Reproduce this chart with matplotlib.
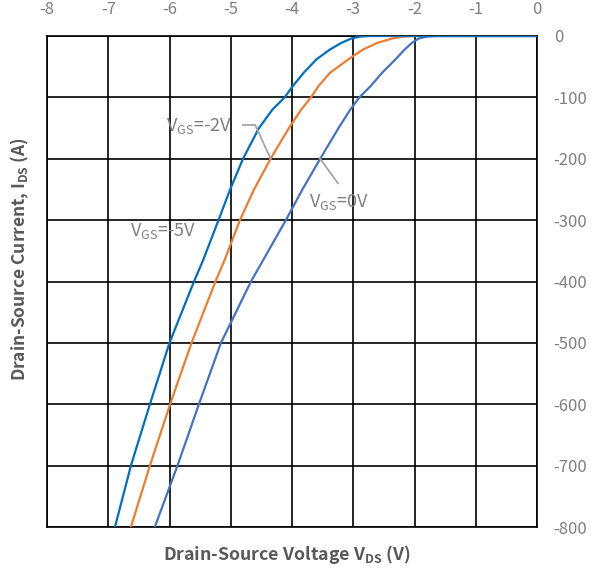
import matplotlib
matplotlib.use("Agg")
import matplotlib.pyplot as plt

# -----------------------
# Data
# -----------------------
current = [-800, -700, -600, -500, -400, -365, -300, -250, -200, -150, -120,
           -100, -82, -60, -38, -22, -11, -4, -1, 0, 0]

vds_vgs_m5 = [-6.89, -6.63, -6.32, -6.00, -5.60, -5.45, -5.20, -5.01, -4.80, -4.54, -4.32,
              -4.12, -3.99, -3.81, -3.60, -3.38, -3.19, -3.03, -2.89, -2.73, 0.0]
vds_vgs_m2 = [-6.63, -6.32, -5.99, -5.64, -5.25, -5.10, -4.85, -4.62, -4.35, -4.05, -3.85,
              -3.69, -3.57, -3.38, -3.08, -2.84, -2.60, -2.36, -2.20, -2.00, 0.0]
vds_vgs_0 = [-6.24, -5.87, -5.52, -5.16, -4.67, -4.47, -4.10, -3.83, -3.54, -3.24, -3.05,
             -2.90, -2.72, -2.53, -2.31, -2.16, -2.04, -1.93, -1.80, -1.64, 0.0]

x_ticks = [-8, -7, -6, -5, -4, -3, -2, -1, 0]
y_ticks = [0, -100, -200, -300, -400, -500, -600, -700, -800]

# -----------------------
# Style
# -----------------------
FONT = ["Noto Sans CJK SC", "DejaVu Sans"]
plt.rcParams["font.family"] = FONT
plt.rcParams["axes.unicode_minus"] = False
plt.rcParams["mathtext.fontset"] = "custom"
plt.rcParams["mathtext.rm"] = "Noto Sans CJK SC"
plt.rcParams["mathtext.bf"] = "Noto Sans CJK SC:bold"

LABEL_GRAY = "#595959"
TICK_GRAY = "#7f7f7f"
NOTE_GRAY = "#7f7f7f"
LEADER_GRAY = "#a5a5a5"

fig = plt.figure(figsize=(5.92, 5.70), dpi=100)
ax = fig.add_axes([47 / 592, 1 - 527 / 570, 490 / 592, 491 / 570])

ax.plot(vds_vgs_m2, current, color="#ed7d31", linewidth=1.6, zorder=3)
ax.plot(vds_vgs_0, current, color="#4472c4", linewidth=1.6, zorder=3)
ax.plot(vds_vgs_m5, current, color="#0070c0", linewidth=1.6, zorder=3)

ax.set_xlim(-8, 0)
ax.set_ylim(-800, 0)
ax.set_xticks(x_ticks)
ax.set_yticks(y_ticks)
ax.set_xticklabels([str(v) for v in x_ticks])
ax.set_yticklabels([str(v) for v in y_ticks])

ax.grid(True, color="black", linewidth=1.2, zorder=1)
ax.set_axisbelow(True)
for s in ax.spines.values():
    s.set_color("black")
    s.set_linewidth(1.2)

ax.xaxis.tick_top()
ax.yaxis.tick_right()
ax.tick_params(axis="x", length=0, pad=13, labelsize=12, labelcolor=TICK_GRAY)
ax.tick_params(axis="y", length=0, pad=12, labelsize=12, labelcolor=TICK_GRAY)

ax.xaxis.set_label_position("bottom")
ax.yaxis.set_label_position("left")
ax.set_xlabel(r"Drain-Source Voltage V$_{\mathbf{DS}}$ (V)", fontsize=12.8,
              fontweight="bold", color=LABEL_GRAY)
ax.set_ylabel(r"Drain-Source Current, I$_{\mathbf{DS}}$ (A)", fontsize=12.5,
              fontweight="bold", color=LABEL_GRAY)
ax.xaxis.set_label_coords(0.49, -0.033)
ax.yaxis.set_label_coords(-0.033, 0.546)

# -----------------------
# Annotations
# -----------------------
ax.plot([-4.80, -4.60, -4.35], [-145, -145, -200], color=LEADER_GRAY, linewidth=1.3, zorder=4)
ax.plot([-3.54, -3.25], [-200, -240], color=LEADER_GRAY, linewidth=1.3, zorder=4)

ax.text(-6.05, -147, r"V$_{\rm GS}$=-2V", fontsize=13, color=NOTE_GRAY, va="center", ha="left")
ax.text(-3.72, -271, r"V$_{\rm GS}$=0V", fontsize=13, color=NOTE_GRAY, va="center", ha="left")
ax.text(-6.64, -318, r"V$_{\rm GS}$=-5V", fontsize=13, color=NOTE_GRAY, va="center", ha="left")

fig.savefig("out.png", dpi=100)
